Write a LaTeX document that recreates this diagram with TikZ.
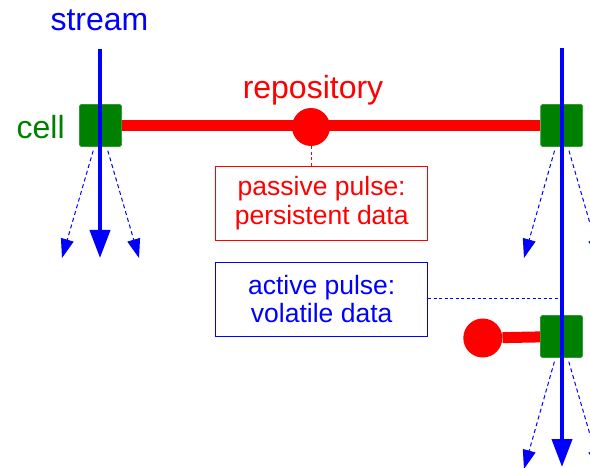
\documentclass[tikz,border=0pt]{standalone}
\usepackage{fontspec}
\setmainfont{Liberation Sans}
\usetikzlibrary{arrows.meta,backgrounds}
\definecolor{cgreen}{RGB}{0,128,0}
\begin{document}
\begin{tikzpicture}[x=1pt,y=-1pt,
  cellbox/.style={fill=cgreen, draw=cgreen!80!white, line width=0.6pt, rounded corners=1.5pt, minimum width=42pt, minimum height=42pt, inner sep=0pt},
  pulse/.style={circle, fill=red, minimum size=38pt, inner sep=0pt},
  streamline/.style={blue, line width=4pt, -{Triangle[length=28pt,width=20pt]}},
  fanout/.style={blue, line width=1pt, dash pattern=on 4pt off 3pt, shorten <=4pt, -{Triangle[length=19pt,width=13pt]}},
  repo/.style={red, line width=11pt},
  labeltext/.style={font=\fontsize{32}{36}\selectfont, anchor=base, inner sep=0pt},
  notebox/.style={draw, line width=0.8pt, minimum width=212pt, minimum height=74pt, align=center, font=\fontsize{26.5}{28.5}\selectfont, inner sep=0pt},
  noteline/.style={line width=1pt, dash pattern=on 3pt off 2.5pt},
]
\useasboundingbox (0,0) rectangle (590,468);
\clip (0,0) rectangle (590,468);

% stream ends
\coordinate (s1top) at (100,49);
\coordinate (s1end) at (100,258);
\coordinate (s2top) at (562,48);
\coordinate (s2end) at (562,467);
% fan-out tips
\coordinate (f1l) at (62,258);
\coordinate (f1r) at (139,258);
\coordinate (f2l) at (524,258);
\coordinate (f2r) at (600,258);
\coordinate (f3l) at (524,469);
\coordinate (f3r) at (600,469);

% cells
\node[cellbox] (c1) at (100.5,125.5) {};
\node[cellbox] (c2) at (561.7,125.5) {};
\node[cellbox] (c3) at (561.5,336.5) {};

% pulses
\node[pulse] (p1) at (311,127) {};
\node[pulse, minimum size=39pt] (p2) at (482.8,338) {};

% labels
\node[labeltext, blue] (lstream) at (99.5,30.7) {stream};
\node[labeltext, cgreen] (lcell) at (40.7,139) {cell};
\node[labeltext, red] (lrepo) at (313,98.3) {repository};

% note boxes
\node[notebox, red] (passive) at (321.7,203) {passive pulse:\\persistent data};
\node[notebox, blue] (active) at (321.7,299) {active pulse:\\volatile data};

\begin{scope}[on background layer]
  \draw[repo] (c1) -- (c2);
  \draw[repo] (p2) -- (c3);
  \draw[fanout] (c1) -- (f1l);
  \draw[fanout] (c1) -- (f1r);
  \draw[fanout] (c2) -- (f2l);
  \draw[fanout] (c2) -- (f2r);
  \draw[fanout] (c3) -- (f3l);
  \draw[fanout] (c3) -- (f3r);
\end{scope}

% streams
\draw[streamline] (s1top) -- (s1end);
\draw[streamline] (s2top) -- (s2end);

% note connectors
\draw[noteline, red] (p1.south) -- (p1.south |- passive.north);
\draw[noteline, blue] (active.east) -- (active.east -| s2top);
\end{tikzpicture}
\end{document}
